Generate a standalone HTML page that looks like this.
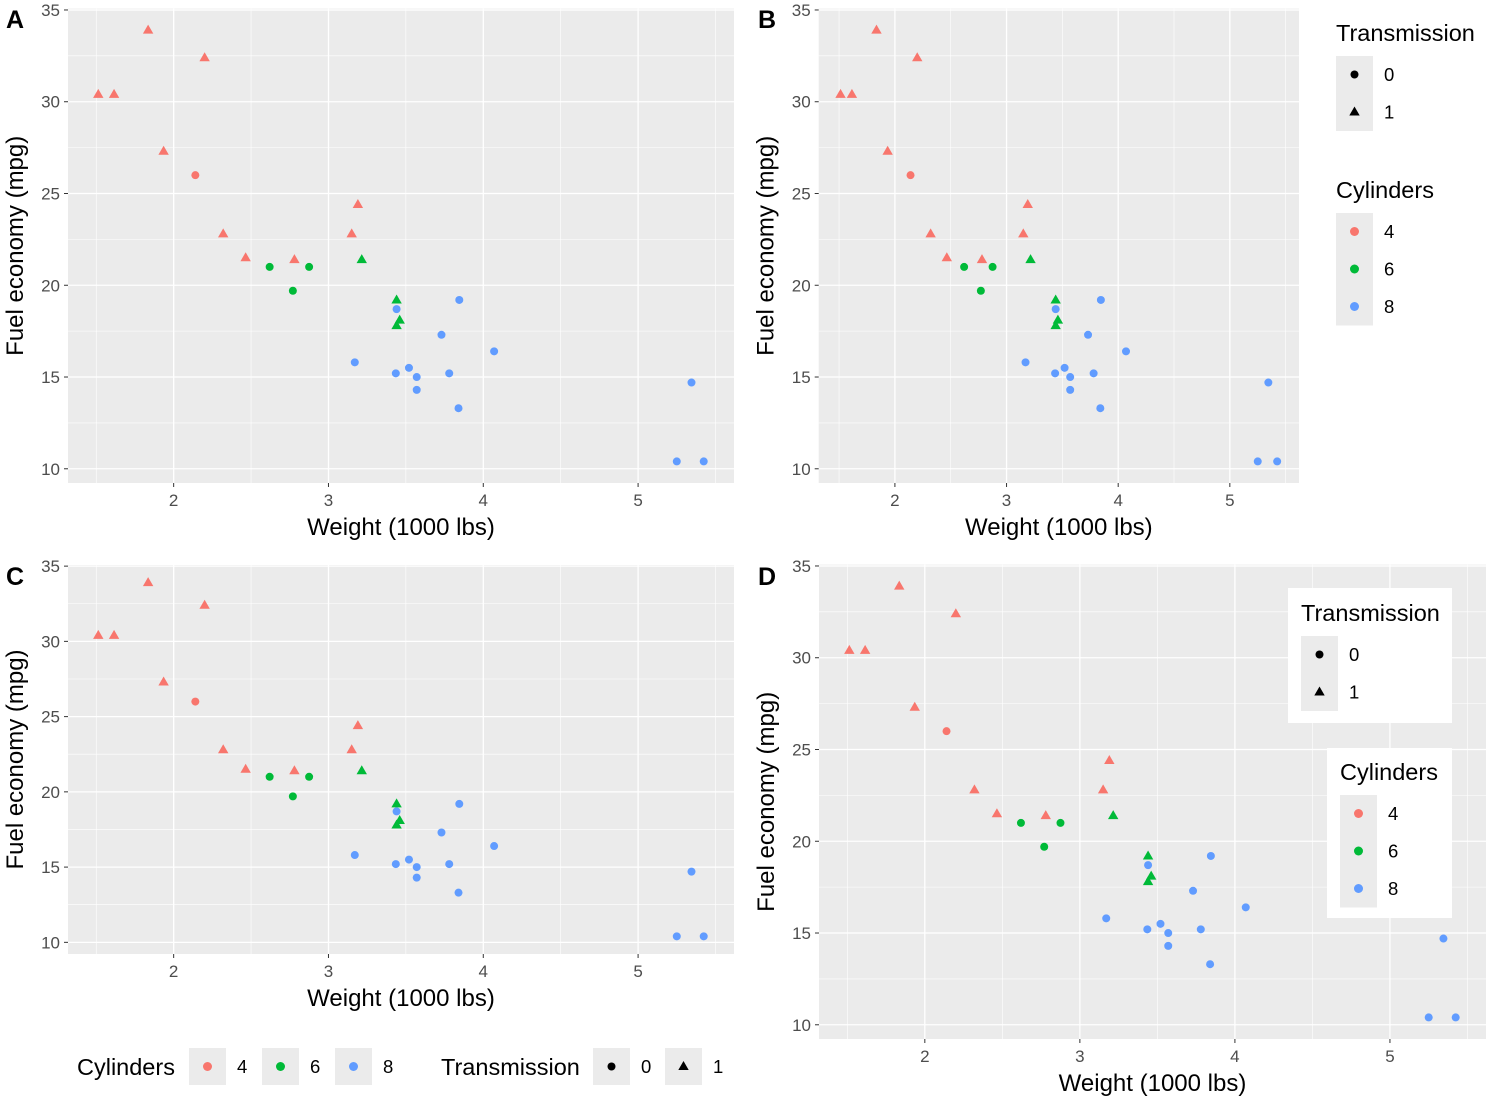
<!DOCTYPE html>
<html><head><meta charset="utf-8"><style>
body{margin:0;background:#fff;}
svg text{font-family:"Liberation Sans",Arial,sans-serif;}
</style></head><body>
<svg id="chart" width="1500" height="1102" viewBox="0 0 1500 1102" xmlns="http://www.w3.org/2000/svg"></svg>
<script>
const weights=[2.620,2.875,2.320,3.215,3.440,3.460,3.570,3.190,3.150,3.440,3.440,4.070,3.730,3.780,5.250,5.424,5.345,2.200,1.615,1.835,2.465,3.520,3.435,3.840,3.845,1.935,2.140,1.513,3.170,2.770,3.570,2.780];
const mpgs=[21.0,21.0,22.8,21.4,18.7,18.1,14.3,24.4,22.8,19.2,17.8,16.4,17.3,15.2,10.4,10.4,14.7,32.4,30.4,33.9,21.5,15.5,15.2,13.3,19.2,27.3,26.0,30.4,15.8,19.7,15.0,21.4];
const cyls=[6,6,4,6,8,6,8,4,4,6,6,8,8,8,8,8,8,4,4,4,4,8,8,8,8,4,4,4,8,6,8,4];
const trans=[0,0,1,1,0,1,0,1,1,1,1,0,0,0,0,0,0,1,1,1,1,0,0,0,0,1,0,1,0,0,0,1];
const xTicks=[2,3,4,5];
const yTicks=[10,15,20,25,30,35];
const cylLevels=[4,6,8];
const transLevels=[0,1];
const colors={4:'#F8766D',6:'#00BA38',8:'#619CFF'};
const NS='http://www.w3.org/2000/svg';
const svg=document.getElementById('chart');
function mk(tag,attrs,parent,text){const e=document.createElementNS(NS,tag);for(const k in attrs)e.setAttribute(k,attrs[k]);if(text!==undefined)e.textContent=text;(parent||svg).appendChild(e);return e;}
const xmin=Math.min(...weights),xmax=Math.max(...weights),ymin=Math.min(...mpgs),ymax=Math.max(...mpgs);
const xlo=xmin-0.05*(xmax-xmin),xhi=xmax+0.05*(xmax-xmin),ylo=ymin-0.05*(ymax-ymin),yhi=ymax+0.05*(ymax-ymin);
function shape(g,cx,cy,t,col){
  if(t===0) return mk('circle',{cx:cx,cy:cy,r:4,fill:col},g);
  return mk('polygon',{points:`${cx},${cy-5.5} ${cx+5.2},${cy+3.5} ${cx-5.2},${cy+3.5}`,fill:col},g);
}
function panel(name,L,T,R,B,label,lx,ly){
  const g=mk('g',{});
  
  
  const sx=v=>L+(v-xlo)/(xhi-xlo)*(R-L);
  const sy=v=>B-(v-ylo)/(yhi-ylo)*(B-T);
  const bg=mk('rect',{x:L,y:T,width:R-L,height:B-T,fill:'#EBEBEB'},g);
  
  
  for(let v=1.5;v<=5.5;v+=1){mk('line',{x1:sx(v),x2:sx(v),y1:T,y2:B,stroke:'#fff','stroke-width':0.6},g);}
  for(let v=12.5;v<=32.5;v+=5){mk('line',{x1:L,x2:R,y1:sy(v),y2:sy(v),stroke:'#fff','stroke-width':0.6},g);}
  xTicks.forEach(v=>{
    mk('line',{x1:sx(v),x2:sx(v),y1:T,y2:B,stroke:'#fff','stroke-width':1.3},g);
    mk('line',{x1:sx(v),x2:sx(v),y1:B,y2:B+4,stroke:'#333','stroke-width':1},g);
    const t=mk('text',{x:sx(v),y:B+23,'font-size':17,fill:'#4D4D4D','text-anchor':'middle'},g,v);
    
    
  });
  yTicks.forEach(v=>{
    mk('line',{x1:L,x2:R,y1:sy(v),y2:sy(v),stroke:'#fff','stroke-width':1.3},g);
    mk('line',{x1:L-4,x2:L,y1:sy(v),y2:sy(v),stroke:'#333','stroke-width':1},g);
    const t=mk('text',{x:L-8,y:sy(v)+6,'font-size':17,fill:'#4D4D4D','text-anchor':'end'},g,v);
    
    
  });
  for(let i=0;i<weights.length;i++){
    const p=shape(g,sx(weights[i]),sy(mpgs[i]),trans[i],colors[cyls[i]]);
    
    
  }
  const xt=mk('text',{x:(L+R)/2,y:B+52,'font-size':24,fill:'#000','text-anchor':'middle'},g,'Weight (1000 lbs)');
  
  
  const yc=(T+B)/2, yx=L-45;
  const yt=mk('text',{x:yx,y:yc,'font-size':24,fill:'#000','text-anchor':'middle',transform:`rotate(-90 ${yx} ${yc})`},g,'Fuel economy (mpg)');
  
  
  const pl=mk('text',{x:lx,y:ly,'font-size':25,'font-weight':'bold',fill:'#000'},g,label);
  
  
}
panel('a',68,8.6,734,483,'A',6,28);
panel('b',818.7,8.6,1299,483,'B',758,28);
panel('c',68,565,734,954,'C',6,585);
panel('d',819,564.6,1486,1039,'D',758,585);

function vlegend(x,y,boxed,bx,by,bw,bh,title,levels,kind){
  const g=mk('g',{});
  
  
  if(boxed) mk('rect',{x:bx,y:by,width:bw,height:bh,fill:'#fff'},g);
  mk('text',{x:x,y:y,'font-size':23.5,fill:'#000'},g,title);
  mk('rect',{x:x,y:y+15,width:37,height:37.5*levels.length,fill:'#EBEBEB'},g);
  levels.forEach((lv,i)=>{
    const cy=y+15+18.5+i*37.5;
    const e=kind==='t'?shape(g,x+18.5,cy,lv,'#000'):mk('circle',{cx:x+18.5,cy:cy,r:4.5,fill:colors[lv]},g);
    
    
    mk('text',{x:x+48,y:cy+6.5,'font-size':18.5,fill:'#000'},g,lv);
  });
}
vlegend(1336,41,false,0,0,0,0,'Transmission',transLevels,'t');
vlegend(1336,198,false,0,0,0,0,'Cylinders',cylLevels,'c');
vlegend(1301,621,true,1288,588,164,135,'Transmission',transLevels,'t');
vlegend(1340,780,true,1327,748,125,170,'Cylinders',cylLevels,'c');

(function(){
  const g=mk('g',{});
  
  
  mk('text',{x:77,y:1075,'font-size':23.5,fill:'#000'},g,'Cylinders');
  cylLevels.forEach((lv,i)=>{
    const x0=189+i*73;
    mk('rect',{x:x0,y:1048,width:37,height:37,fill:'#EBEBEB'},g);
    const e=mk('circle',{cx:x0+18.5,cy:1066.5,r:4.5,fill:colors[lv]},g);
    
    
    mk('text',{x:x0+48,y:1073,'font-size':18.5,fill:'#000'},g,lv);
  });
  mk('text',{x:441,y:1075,'font-size':23.5,fill:'#000'},g,'Transmission');
  transLevels.forEach((lv,i)=>{
    const x0=593+i*72;
    mk('rect',{x:x0,y:1048,width:37,height:37,fill:'#EBEBEB'},g);
    const e=shape(g,x0+18.5,1066.5,lv,'#000');
    
    
    mk('text',{x:x0+48,y:1073,'font-size':18.5,fill:'#000'},g,lv);
  });
})();
</script>
</body></html>
